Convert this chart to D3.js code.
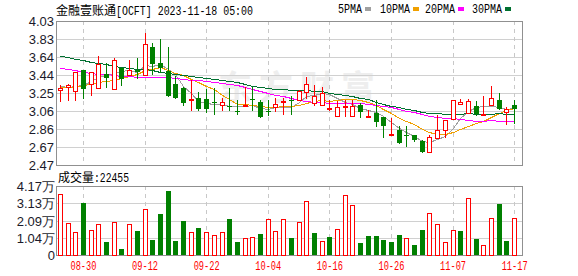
<!DOCTYPE html>
<html>
<head>
<meta charset="utf-8">
<script src="https://cdn.jsdelivr.net/npm/d3@7/dist/d3.min.js"></script>
<style>
body { margin: 0; background: #fff; }
svg { display: block; }
</style>
</head>
<body>
<div id="chart"></div>
<script>
// trading days shown (MM-DD)
const dates = ['08-25','08-28','08-29','08-30','08-31','09-01','09-05','09-06','09-07','09-08',
  '09-11','09-12','09-13','09-14','09-15','09-18','09-19','09-20','09-21','09-22',
  '09-25','09-26','09-27','09-28','09-29','10-02','10-03','10-04','10-05','10-06',
  '10-09','10-10','10-11','10-12','10-13','10-16','10-17','10-18','10-19','10-20',
  '10-23','10-24','10-25','10-26','10-27','10-30','10-31','11-01','11-02','11-03',
  '11-06','11-07','11-08','11-09','11-10','11-13','11-14','11-15','11-16','11-17'];

const open = [3.28,3.32,3.275,3.50,3.345,3.30,3.46,3.29,3.52,3.45,
  3.50,3.45,3.745,3.58,3.49,3.345,3.30,3.18,3.20,3.19,
  3.15,3.125,3.11,3.055,3.12,3.18,3.155,3.05,3.10,3.155,
  3.17,3.175,3.265,3.14,3.12,3.08,3.005,3.10,3.00,3.115,
  2.995,3.035,2.985,2.805,2.85,2.79,2.79,2.735,2.607,2.766,
  2.85,2.968,3.131,3.036,3.109,3.022,3.117,3.174,3.044,3.12];
const high = [3.34,3.345,3.48,3.50,3.48,3.65,3.57,3.625,3.52,3.61,
  3.63,3.90,3.79,3.84,3.745,3.43,3.31,3.39,3.26,3.29,
  3.30,3.20,3.30,3.175,3.32,3.31,3.175,3.175,3.20,3.20,
  3.215,3.285,3.42,3.335,3.31,3.175,3.165,3.17,3.175,3.14,
  3.065,3.175,2.99,2.975,2.89,2.89,2.795,2.745,2.795,3.01,
  2.957,3.174,3.18,3.18,3.16,3.217,3.326,3.247,3.095,3.174];
const low = [3.16,3.17,3.17,3.20,3.23,3.30,3.32,3.29,3.34,3.45,
  3.41,3.45,3.46,3.48,3.22,3.20,3.12,3.07,3.065,3.04,
  3.02,3.07,3.07,3.025,3.115,3.07,2.99,3.01,3.06,3.02,
  3.02,3.17,3.20,3.12,3.12,3.07,3.00,3.00,3.00,2.995,
  2.995,2.89,2.77,2.805,2.71,2.675,2.735,2.615,2.607,2.766,
  2.777,2.968,3.131,3.03,3.012,3.02,3.117,3.08,2.91,2.92];
const close = [3.30,3.335,3.474,3.29,3.474,3.56,3.41,3.61,3.40,3.50,
  3.48,3.78,3.56,3.52,3.22,3.20,3.14,3.19,3.08,3.08,
  3.145,3.15,3.095,3.05,3.125,3.175,2.995,3.045,3.127,3.165,
  3.16,3.275,3.345,3.215,3.25,3.085,3.095,3.105,3.11,3.045,
  3.00,2.94,2.89,2.808,2.712,2.785,2.74,2.615,2.77,2.85,
  2.957,3.174,3.152,3.163,3.019,3.026,3.193,3.08,3.073,3.073];
const volume = [36700,19150,13700,31400,14900,18550,7850,19750,3600,18550,
  14500,27600,9060,24800,38700,8460,20500,13700,16500,13700,
  11900,13700,21750,7850,10100,10700,12700,21600,14300,21600,
  10300,19750,32400,13300,8260,10900,15500,36100,30000,7250,
  11500,11500,9060,7850,12100,10100,6040,15100,25200,18550,
  7670,14900,14500,34300,9670,5860,22400,30800,8460,22455];

const ma5 = [3.33,3.32,3.33,3.34,3.375,3.427,3.442,3.469,3.491,3.496,
  3.48,3.554,3.544,3.568,3.512,3.456,3.328,3.254,3.166,3.138,
  3.127,3.129,3.11,3.104,3.113,3.119,3.088,3.078,3.093,3.101,
  3.098,3.154,3.214,3.232,3.249,3.234,3.198,3.15,3.129,3.088,
  3.071,3.04,2.997,2.937,2.87,2.827,2.787,2.732,2.724,2.752,
  2.786,2.873,2.981,3.059,3.093,3.107,3.111,3.096,3.078,3.089];
const ma10 = [3.32,3.32,3.32,3.335,3.35,3.37,3.385,3.395,3.41,3.435,
  3.453,3.498,3.506,3.529,3.504,3.468,3.441,3.399,3.367,3.325,
  3.292,3.229,3.182,3.135,3.126,3.123,3.109,3.094,3.099,3.107,
  3.109,3.121,3.146,3.163,3.175,3.166,3.176,3.182,3.181,3.169,
  3.153,3.119,3.074,3.033,2.979,2.949,2.914,2.865,2.831,2.811,
  2.807,2.830,2.856,2.892,2.923,2.947,2.992,3.038,3.069,3.091];
const ma20 = [3.517,3.51,3.495,3.481,3.47,3.459,3.452,3.445,3.438,3.43,
  3.423,3.42,3.418,3.418,3.42,3.415,3.405,3.395,3.388,3.380,
  3.372,3.363,3.344,3.332,3.315,3.296,3.275,3.247,3.233,3.216,
  3.200,3.175,3.164,3.149,3.150,3.145,3.142,3.138,3.140,3.138,
  3.131,3.120,3.110,3.098,3.077,3.058,3.045,3.023,3.006,2.990,
  2.980,2.975,2.965,2.962,2.951,2.948,2.953,2.951,2.950,2.951];
const ma30 = [3.65,3.64,3.62,3.605,3.59,3.577,3.56,3.546,3.533,3.524,
  3.515,3.505,3.495,3.48,3.467,3.455,3.44,3.43,3.42,3.41,
  3.40,3.39,3.38,3.365,3.35,3.33,3.315,3.30,3.295,3.289,
  3.285,3.283,3.278,3.276,3.268,3.252,3.242,3.225,3.215,3.200,
  3.184,3.156,3.134,3.110,3.093,3.079,3.066,3.047,3.037,3.029,
  3.023,3.023,3.025,3.029,3.026,3.021,3.027,3.028,3.027,3.024];

const priceTicks = ['2.47','2.67','2.86','3.06','3.25','3.44','3.64','3.83','4.03'];
const volTicks = ['0','1.04万','2.09万','3.13万','4.17万'];
const dateTicks = ['08-30','09-12','09-22','10-04','10-16','10-26','11-07','11-17'];
const maNames = ['5PMA','10PMA','20PMA','30PMA'];

const RED = '#ff0000', GREEN = '#008000';
const maColors = ['#a0a0a0','#f0a000','#ff00ff','#007030'];

const svg = d3.select('#chart').append('svg')
  .attr('width', 578).attr('height', 276)
  .style('font-family', '"Liberation Sans", Arial, sans-serif');

const L = 56, R = 522;
const x = d3.scalePoint().domain(dates).range([L, 518]).padding(0.5);
const y = d3.scaleLinear().domain([2.47, 4.03]).range([165, 21]);
const v = d3.scaleLinear().domain([0, 41700]).range([255, 186]);
const cx = i => Math.round(x(dates[i]));

// watermark
svg.append('text')
  .attr('x', 218).attr('y', 100)
  .attr('font-family', '"Noto Sans CJK SC"')
  .attr('font-size', 34).attr('font-weight', 'bold')
  .attr('letter-spacing', 7)
  .style('fill', '#eeeeee')
  .text('东方财富');

function grid(g, yScale, n, top, bottom) {
  const d = yScale.domain();
  for (let k = 0; k <= n; k++) {
    const yy = Math.round(yScale(d[0] + k * (d[1] - d[0]) / n)) + 0.5;
    g.append('line').attr('x1', L).attr('x2', R).attr('y1', yy).attr('y2', yy)
      .style('stroke', '#d0d0d0');
  }
  dateTicks.forEach(t => {
    const xx = Math.round(x(t)) + 0.5;
    g.append('line').attr('x1', xx).attr('x2', xx).attr('y1', top).attr('y2', bottom)
      .style('stroke', '#c8c8c8').style('stroke-dasharray', '4,4');
  });
  g.append('rect').attr('x', L + 0.5).attr('y', top + 0.5)
    .attr('width', R - L).attr('height', bottom - top)
    .style('fill', 'none').style('stroke', '#909090');
}

const main = svg.append('g').attr('shape-rendering', 'crispEdges');
grid(main, y, 8, 21, 165);

// price labels
priceTicks.forEach((t, k) => {
  svg.append('text').attr('x', 54).attr('y', y(2.47 + k * 0.195) + 4.5)
    .attr('text-anchor', 'end').attr('font-size', 13).style('fill', '#1a1a2a').text(t);
});

// moving averages
[ma5, ma10, ma20, ma30].forEach((s, j) => {
  main.append('path')
    .datum(s)
    .attr('d', d3.line().x((d, i) => cx(i) + 0.5).y(d => Math.round(y(d)) + 0.5))
    .style('fill', 'none').style('stroke', maColors[j]).style('stroke-width', 1);
});

// candles
const candles = main.selectAll('g.candle').data(dates).join('g').attr('class', 'candle');
candles.each(function(d, i) {
  const g = d3.select(this);
  const up = close[i] >= open[i];
  const col = up ? RED : GREEN;
  const c = cx(i);
  g.append('line').attr('x1', c + 0.5).attr('x2', c + 0.5)
    .attr('y1', Math.round(y(high[i]))).attr('y2', Math.round(y(low[i])) + 1)
    .style('stroke', col);
  const top = Math.round(y(Math.max(open[i], close[i])));
  const bot = Math.round(y(Math.min(open[i], close[i])));
  if (up) {
    g.append('rect').attr('x', c - 1.5).attr('y', top + 0.5)
      .attr('width', 4).attr('height', Math.max(bot - top, 1))
      .style('fill', '#fff').style('stroke', col);
  } else {
    g.append('rect').attr('x', c - 2).attr('y', top)
      .attr('width', 5).attr('height', Math.max(bot - top, 1))
      .style('fill', col);
  }
});

// legend
const legX = [338, 380, 425, 472];
maNames.forEach((n, j) => {
  svg.append('text').attr('x', legX[j]).attr('y', 13)
    .attr('font-family', '"Liberation Mono", monospace').attr('font-size', 12)
    .attr('textLength', n.length * 6).attr('lengthAdjust', 'spacingAndGlyphs')
    .style('fill', '#000').text(n);
  svg.append('rect').attr('x', legX[j] + n.length * 6 + 3).attr('y', 7)
    .attr('width', 6).attr('height', 4).style('fill', maColors[j]);
});

// title
svg.append('text').attr('x', 56).attr('y', 15)
  .attr('font-family', '"Noto Sans CJK SC"').attr('font-size', 12)
  .style('fill', '#000').text('金融壹账通');
svg.append('text').attr('x', 116).attr('y', 15)
  .attr('font-family', '"Liberation Mono", monospace').attr('font-size', 12)
  .attr('textLength', 137).attr('lengthAdjust', 'spacingAndGlyphs')
  .style('fill', '#000').text('[OCFT] 2023-11-18 05:00');

// volume panel
const vol = svg.append('g').attr('shape-rendering', 'crispEdges');
grid(vol, v, 4, 186, 255);

volTicks.forEach((t, k) => {
  svg.append('text').attr('x', 55).attr('y', v(k * 41700 / 4) + 5)
    .attr('text-anchor', 'end').attr('font-size', 13).style('fill', '#1a1a2a').text(t);
});

const bars = vol.selectAll('g.vbar').data(volume).join('g').attr('class', 'vbar');
bars.each(function(d, i) {
  const g = d3.select(this);
  const up = i === 0 || close[i] >= close[i - 1];
  const c = cx(i);
  const top = Math.round(v(d));
  if (up) {
    g.append('rect').attr('x', c - 1.5).attr('y', top + 0.5)
      .attr('width', 4).attr('height', 255 - top - 0.5)
      .style('fill', '#fff').style('stroke', RED);
  } else {
    g.append('rect').attr('x', c - 2).attr('y', top)
      .attr('width', 5).attr('height', 255 - top)
      .style('fill', GREEN);
  }
});

svg.append('text').attr('x', 58).attr('y', 182)
  .attr('font-family', '"Noto Sans CJK SC"').attr('font-size', 12)
  .style('fill', '#000').text('成交量');
svg.append('text').attr('x', 94).attr('y', 182)
  .attr('font-family', '"Liberation Mono", monospace').attr('font-size', 12)
  .attr('textLength', 35).attr('lengthAdjust', 'spacingAndGlyphs')
  .style('fill', '#000').text(':' + volume[volume.length - 1]);

// date labels
dateTicks.forEach(t => {
  svg.append('text').attr('x', x(t) + 0.5).attr('y', 270)
    .attr('text-anchor', 'middle')
    .attr('font-family', '"Liberation Mono", monospace').attr('font-size', 12)
    .attr('textLength', 26).attr('lengthAdjust', 'spacingAndGlyphs')
    .style('fill', RED).text(t);
});
</script>
</body>
</html>
